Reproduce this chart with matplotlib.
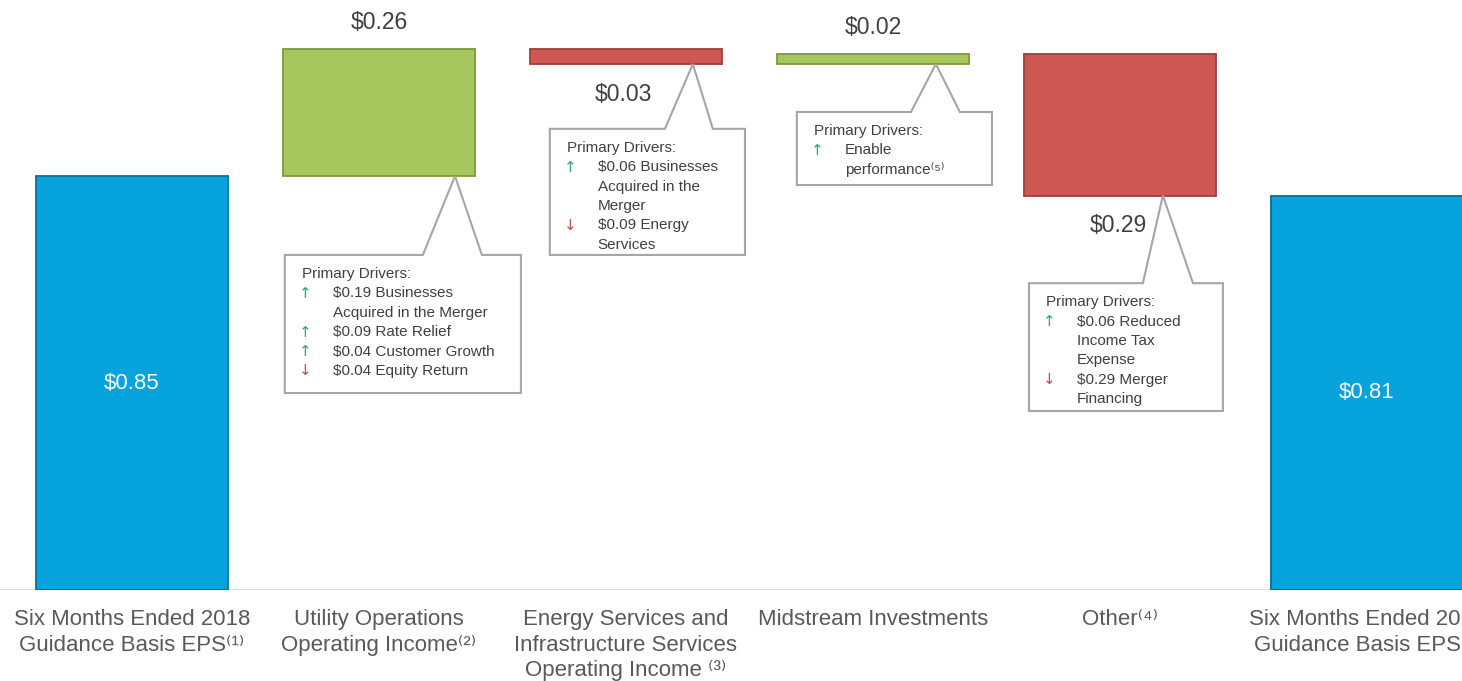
import numpy as np
import matplotlib.pyplot as plt
from matplotlib.patches import Polygon

plt.rcParams['font.family'] = ['Liberation Sans', 'DejaVu Sans']

# Data
categories = [
    "Six Months Ended 2018\nGuidance Basis EPS⁽¹⁾",
    "Utility Operations\nOperating Income⁽²⁾",
    "Energy Services and\nInfrastructure Services\nOperating Income ⁽³⁾",
    "Midstream Investments",
    "Other⁽⁴⁾",
    "Six Months Ended 2019\nGuidance Basis EPS⁽¹⁾",
]
values = [0.85, 0.26, -0.03, 0.02, -0.29, 0.81]
is_total = [True, False, False, False, False, True]

drivers = {
    1: [("Primary Drivers:", None), ("$0.19 Businesses", "up"), ("Acquired in the Merger", None),
        ("$0.09 Rate Relief", "up"), ("$0.04 Customer Growth", "up"), ("$0.04 Equity Return", "down")],
    2: [("Primary Drivers:", None), ("$0.06 Businesses", "up"), ("Acquired in the", None),
        ("Merger", None), ("$0.09 Energy", "down"), ("Services", None)],
    3: [("Primary Drivers:", None), ("Enable", "up"), ("performance⁽⁵⁾", None)],
    4: [("Primary Drivers:", None), ("$0.06 Reduced", "up"), ("Income Tax", None),
        ("Expense", None), ("$0.29 Merger", "down"), ("Financing", None)],
}

# callout box layout (x relative to category, y in $)
callouts = {
    1: dict(left=-0.381, right=0.575, top=0.688, bottom=0.4045, b1=0.178, b2=0.417, apex=0.308),
    2: dict(left=-0.308, right=0.482, top=0.947, bottom=0.688, b1=0.158, b2=0.352, apex=0.271),
    3: dict(left=-0.308, right=0.482, top=0.9815, bottom=0.8316, b1=0.154, b2=0.352, apex=0.255),
    4: dict(left=-0.368, right=0.417, top=0.630, bottom=0.3676, b1=0.093, b2=0.296, apex=0.174),
}

# waterfall geometry
bottoms, heights = [], []
running = 0.0
for v, tot in zip(values, is_total):
    if tot:
        bottoms.append(0.0)
        heights.append(v)
        running = v
    else:
        bottoms.append(running if v > 0 else running + v)
        heights.append(abs(v))
        running += v

face = []
edge = []
for v, tot in zip(values, is_total):
    if tot:
        face.append('#07a3dc'); edge.append('#04719a')
    elif v > 0:
        face.append('#a5c75b'); edge.append('#7d9a3b')
    else:
        face.append('#cf5855'); edge.append('#a03e3b')

fig = plt.figure(figsize=(14.62, 6.81), dpi=100)
ax = fig.add_axes([0, 91 / 681, 1, 590 / 681])
x = np.arange(len(values))
ax.bar(x, heights, bottom=bottoms, width=0.78, color=face, edgecolor=edge, linewidth=1.3, zorder=2)

ax.set_xlim(-0.534, 5.385)
ax.set_ylim(0, 1.2115)
for s in ax.spines.values():
    s.set_visible(False)
ax.axhline(0, color='#d9d9d9', lw=1.2, zorder=1)
ax.set_yticks([])
ax.set_xticks(x)
ax.set_xticklabels(categories, fontsize=16, color='#595959', linespacing=1.28)
ax.tick_params(axis='x', length=0, pad=14)

# value labels
for i, (v, tot) in enumerate(zip(values, is_total)):
    lab = "$%.2f" % abs(v)
    if tot:
        ax.text(i, bottoms[i] + heights[i] / 2, lab, ha='center', va='center',
                color='white', fontsize=16, zorder=3)
    elif v > 0:
        ax.annotate(lab, (i, bottoms[i] + heights[i]), xytext=(0, 27), textcoords='offset pixels',
                    ha='center', va='center', fontsize=16.5, color='#404040')
    else:
        ax.annotate(lab, (i, bottoms[i]), xytext=(-2, -30), textcoords='offset pixels',
                    ha='center', va='center', fontsize=16.5, color='#404040')

# callouts
for i, c in callouts.items():
    ay = bottoms[i]
    pts = [(i + c['left'], c['top']), (i + c['b1'], c['top']), (i + c['apex'], ay),
           (i + c['b2'], c['top']), (i + c['right'], c['top']), (i + c['right'], c['bottom']),
           (i + c['left'], c['bottom'])]
    ax.add_patch(Polygon(pts, closed=True, facecolor='white', edgecolor='#a6a6a6', lw=1.5, zorder=4))
    for k, (txt, arrow) in enumerate(drivers[i]):
        dy = -19 - k * 19.4
        xoff = 17 if k == 0 else 48
        ax.annotate(txt, (i + c['left'], c['top']), xytext=(xoff, dy), textcoords='offset pixels',
                    ha='left', va='center', fontsize=11, color='#404040', zorder=5)
        if arrow:
            ax.annotate("↑" if arrow == "up" else "↓", (i + c['left'], c['top']), xytext=(20, dy),
                        textcoords='offset pixels', ha='center', va='center', fontsize=11,
                        family='DejaVu Sans',
                        color='#2ca87f' if arrow == "up" else '#c0504d', zorder=5)

fig.savefig("out.png", dpi=100)
